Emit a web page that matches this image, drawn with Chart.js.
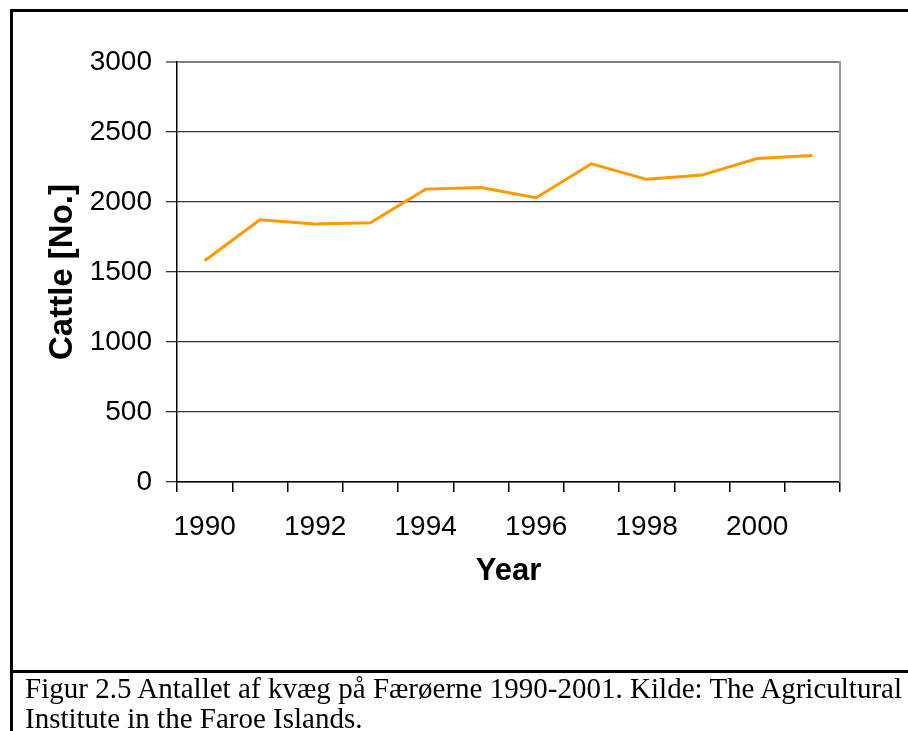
<!DOCTYPE html>
<html>
<head>
<meta charset="utf-8">
<script src="https://cdn.jsdelivr.net/npm/chart.js@4/dist/chart.umd.min.js"></script>
<style>
  html, body { margin: 0; padding: 0; background: #fff; width: 908px; height: 731px; overflow: hidden; }
  #wrap { position: absolute; left: 0; top: 0; width: 908px; height: 668px; }
  .frame-left { position: absolute; left: 10px; top: 9px; width: 3px; height: 722px; background: #000; }
  .frame-top { position: absolute; left: 10px; top: 9px; width: 898px; height: 3px; background: #000; }
  .frame-mid { position: absolute; left: 10px; top: 670px; width: 898px; height: 3px; background: #000; }
  .caption { position: absolute; left: 25px; width: 877px; font-family: "Liberation Serif", "DejaVu Serif", serif; font-size: 29px; line-height: 30px; color: #000; white-space: nowrap; }
  #cap1 { top: 673px; text-align: justify; text-align-last: justify; }
  #cap2 { top: 703px; }
</style>
</head>
<body>
<div id="wrap"><canvas id="cattleChart" width="908" height="668"></canvas></div>
<div class="frame-left"></div>
<div class="frame-top"></div>
<div class="frame-mid"></div>
<div class="caption" id="cap1">Figur 2.5 Antallet af kvæg på Færøerne 1990-2001. Kilde: The Agricultural</div>
<div class="caption" id="cap2">Institute in the Faroe Islands.</div>
<script>
// data
const years = ['1990', '1991', '1992', '1993', '1994', '1995', '1996', '1997', '1998', '1999', '2000', '2001'];
const cattle = [1580, 1873, 1843, 1852, 2092, 2104, 2031, 2273, 2162, 2192, 2311, 2333];
const yTicks = [0, 500, 1000, 1500, 2000, 2500, 3000];

const FONT = '"Liberation Sans", Arial, Helvetica, sans-serif';

// grey right-hand edge of the plot box
const plotEdge = {
  id: 'plotEdge',
  afterDraw(chart) {
    const { ctx, chartArea } = chart;
    ctx.save();
    ctx.strokeStyle = '#9a9a9a';
    ctx.lineWidth = 2;
    ctx.beginPath();
    ctx.moveTo(chartArea.right, chartArea.top - 1);
    ctx.lineTo(chartArea.right, chartArea.bottom);
    ctx.stroke();
    ctx.restore();
  }
};

new Chart(document.getElementById('cattleChart'), {
  type: 'line',
  data: {
    labels: years,
    datasets: [{
      label: 'Cattle',
      data: cattle,
      borderColor: '#ff9900',
      borderWidth: 3,
      pointRadius: 0,
      tension: 0,
      fill: false
    }]
  },
  options: {
    responsive: false,
    animation: false,
    devicePixelRatio: 1,
    layout: { padding: { top: 62, right: 68, left: 0, bottom: 0 } },
    plugins: {
      legend: { display: false },
      tooltip: { enabled: false }
    },
    scales: {
      x: {
        type: 'category',
        offset: true,
        afterFit(scale) { scale.height = 186; },
        border: { display: true, color: '#000', width: 1.5 },
        grid: {
          offset: true,
          drawOnChartArea: false,
          drawTicks: true,
          tickLength: 10,
          color: '#000',
          lineWidth: 1.5
        },
        ticks: {
          autoSkip: false,
          maxRotation: 0,
          padding: 18,
          color: '#000',
          font: { family: FONT, size: 28 },
          callback(val, i) { return i % 2 === 0 ? years[i] : ''; }
        },
        title: {
          display: true,
          text: 'Year',
          color: '#000',
          font: { family: FONT, size: 31, weight: 'bold' },
          padding: { top: 0, bottom: 78 }
        }
      },
      y: {
        min: 0,
        max: 3000,
        afterFit(scale) { scale.width = 177; },
        afterBuildTicks(scale) { scale.ticks = yTicks.map(v => ({ value: v })); },
        border: { display: true, color: '#000', width: 1.5 },
        grid: {
          drawTicks: true,
          tickLength: 11,
          color(ctx) { return ctx.tick && ctx.tick.value === 3000 ? '#808080' : '#333'; },
          lineWidth(ctx) { return ctx.tick && ctx.tick.value === 3000 ? 2 : 1.3; }
        },
        ticks: {
          padding: 14,
          color: '#000',
          font: { family: FONT, size: 28 },
          callback(val) { return String(val); }
        },
        title: {
          display: true,
          text: 'Cattle [No.]',
          color: '#000',
          font: { family: FONT, size: 33, weight: 'bold' },
          padding: { top: 43, bottom: 0 }
        }
      }
    }
  },
  plugins: [plotEdge]
});
</script>
</body>
</html>
